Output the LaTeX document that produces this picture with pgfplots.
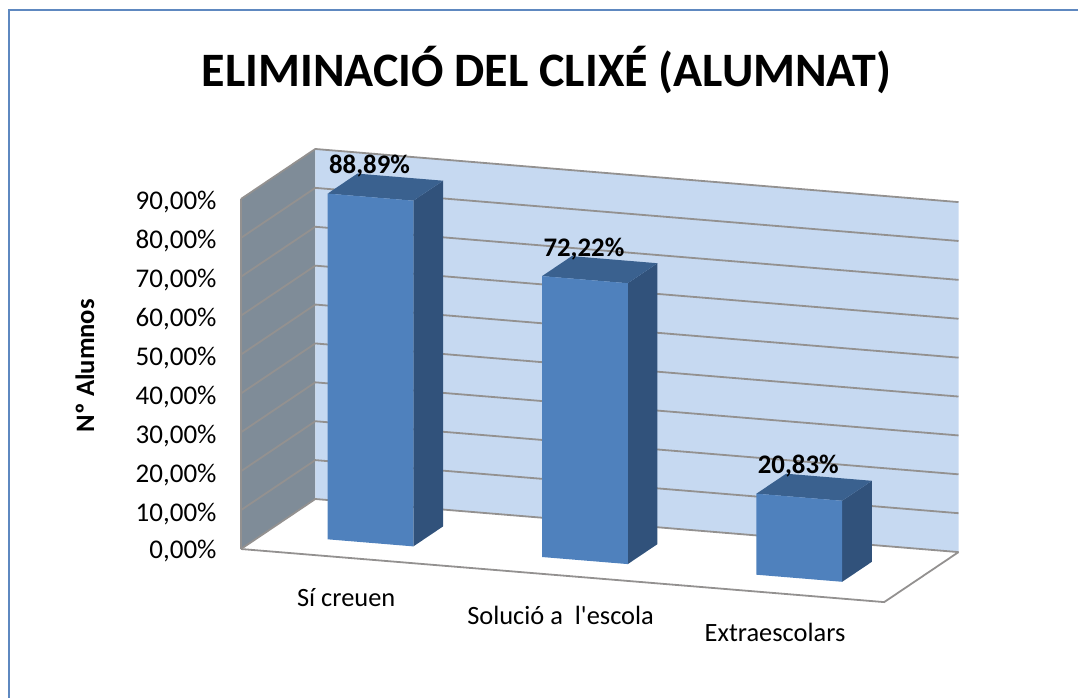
\documentclass[border=0pt]{standalone}
\usepackage{pgfplots}
\pgfplotsset{compat=1.18}
\usepackage{fontspec}
\setmainfont{Carlito}[Ligatures=TeXOff]
\definecolor{cFront}{HTML}{4F81BD}
\definecolor{cSide}{HTML}{31527B}
\definecolor{cTop}{HTML}{3A618F}
\definecolor{cBack}{HTML}{C6D9F1}
\definecolor{cLeft}{HTML}{7F8C98}
\definecolor{cGrid}{HTML}{939190}
\definecolor{cFrame}{HTML}{5E88C0}
\newcommand{\wallline}[1]{%
  \addplot3[forget plot,no marks,draw=cGrid,line width=1.8pt] coordinates {(0,0,#1) (0,1,#1) (3,1,#1)};}
\newcommand{\barbox}[3]{% x0, x1, value
  \addplot3[forget plot,no marks,draw=none,fill=cSide] coordinates {(#2,0.3,0) (#2,0.7,0) (#2,0.7,#3) (#2,0.3,#3)};
  \addplot3[forget plot,no marks,draw=none,fill=cTop] coordinates {(#1,0.3,#3) (#2,0.3,#3) (#2,0.7,#3) (#1,0.7,#3)};
  \addplot3[forget plot,no marks,draw=none,fill=cFront] coordinates {(#1,0.3,0) (#2,0.3,0) (#2,0.3,#3) (#1,0.3,#3)};}
\begin{document}
\begin{tikzpicture}[x=1pt,y=1pt]
\path[use as bounding box] (0,0) rectangle (1078,697);
\draw[cFrame,line width=1.6pt] (9,-2) -- (9,687) -- (1080,687);
\begin{axis}[
  at={(241pt,148pt)},anchor=origin,
  x={(214.4pt,-17.7pt)},y={(74.3pt,50pt)},z={(0pt,3.889pt)},
  xmin=0,xmax=3,ymin=0,ymax=1,zmin=0,zmax=90,
  clip=false,
  axis line style={draw=none},
  major tick style={draw=none},
  ytick=\empty,
  xtick={0.5,1.5,2.5},
  xticklabels={{Sí creuen},{Solució a\ \ l'escola},{Extraescolars}},
  xticklabel style={anchor=center,xshift=-2pt,yshift=-39.5pt,font=\fontsize{26.4}{30}\selectfont},
  ztick={0,10,20,30,40,50,60,70,80,90},
  zticklabels={{0,00\%},{10,00\%},{20,00\%},{30,00\%},{40,00\%},{50,00\%},{60,00\%},{70,00\%},{80,00\%},{90,00\%}},
  zticklabel style={xshift=-21pt,yshift=8pt,font=\fontsize{27}{30}\selectfont},
  title={ELIMINACIÓ DEL CLIXÉ (ALUMNAT)},
  title style={at={(axis description cs:0.4255,1.161)},anchor=center,font=\fontsize{48}{52}\bfseries\selectfont},
  zlabel={Nº Alumnos},
  every axis z label/.style={at={(axis description cs:-0.2176,0.522)},anchor=center,rotate=90,font=\fontsize{26.6}{30}\bfseries\selectfont},
]
\addplot3[forget plot,no marks,draw=none,fill=cLeft] coordinates {(0,0,0) (0,1,0) (0,1,90) (0,0,90)};
\addplot3[forget plot,no marks,draw=none,fill=cBack] coordinates {(0,1,0) (3,1,0) (3,1,90) (0,1,90)};
\wallline{0}\wallline{10}\wallline{20}\wallline{30}\wallline{40}\wallline{50}\wallline{60}\wallline{70}\wallline{80}\wallline{90}
\addplot3[forget plot,no marks,draw=cGrid,line width=1.8pt] coordinates {(0,0,0) (3,0,0) (3,1,0)};
\addplot3[forget plot,no marks,draw=cGrid,line width=1.2pt] coordinates {(0,0,0) (0,0,90)};
\barbox{0.3}{0.7}{88.89}
\barbox{1.3}{1.7}{72.22}
\barbox{2.3}{2.7}{20.83}
\addplot3[forget plot,draw=none,mark=none,point meta=explicit symbolic,
  nodes near coords,
  nodes near coords style={anchor=center,yshift=31pt,xshift=-1pt,font=\fontsize{26.8}{30}\bfseries\selectfont,text=black}]
  coordinates {(0.5,0.3,88.89)[88,89\%] (1.5,0.3,72.22)[72,22\%] (2.5,0.3,20.83)[20,83\%]};
\end{axis}
\end{tikzpicture}
\end{document}
